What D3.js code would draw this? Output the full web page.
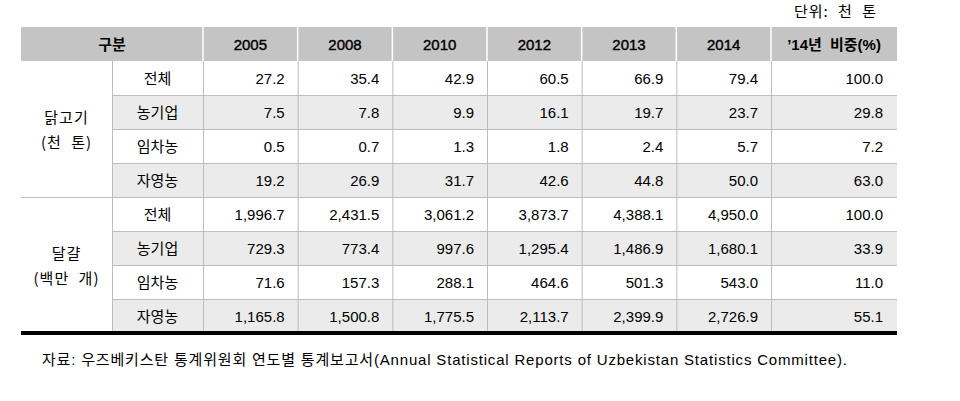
<!DOCTYPE html>
<html><head><meta charset="utf-8">
<script src="https://cdn.jsdelivr.net/npm/d3@7"></script>
<style>
body{margin:0;background:#fff;}
svg{display:block;}
</style></head>
<body><svg id="c" width="960" height="401"></svg>
<script>
const unitLabel = "단위: 천 톤";
const headerLabel = "구분";
const years = ["2005","2008","2010","2012","2013","2014"];
const shareLabel = "’14년 비중(%)";
const groups = [["닭고기","(천 톤)"],["달걀","(백만 개)"]];
const subcats = ["전체","농기업","임차농","자영농"];
const chickenValues = [
  [27.2,35.4,42.9,60.5,66.9,79.4],
  [7.5,7.8,9.9,16.1,19.7,23.7],
  [0.5,0.7,1.3,1.8,2.4,5.7],
  [19.2,26.9,31.7,42.6,44.8,50.0]
];
const chickenShare = [100.0,29.8,7.2,63.0];
const eggValues = [
  [1996.7,2431.5,3061.2,3873.7,4388.1,4950.0],
  [729.3,773.4,997.6,1295.4,1486.9,1680.1],
  [71.6,157.3,288.1,464.6,501.3,543.0],
  [1165.8,1500.8,1775.5,2113.7,2399.9,2726.9]
];
const eggShare = [100.0,33.9,11.0,55.1];
const sourceText = "자료: 우즈베키스탄 통계위원회 연도별 통계보고서(Annual Statistical Reports of Uzbekistan Statistics Committee).";

const svg = d3.select("#c");
const KR = "'Noto Sans CJK KR', sans-serif";
const NUM = "'Liberation Sans', Arial, sans-serif";
const MIX = "'Liberation Sans', 'Noto Sans CJK KR', sans-serif";
const fs = 15;

const left = 21, right = 897, c1 = 112, c2 = 203, cYearEnd = 771;
const headTop = 27, headBot = 61, bodyBot = 333;

const rows = [];
[chickenValues, eggValues].forEach((vals, g) => {
  const share = g === 0 ? chickenShare : eggShare;
  vals.forEach((r, i) => rows.push({g, i, sub: subcats[i], vals: r, share: share[i]}));
});

const y = d3.scaleBand().domain(d3.range(rows.length)).range([headBot, bodyBot]);
const x = d3.scaleBand().domain(years).range([c2, cYearEnd]);
const fmt = d3.format(",.1f");

// header fill
svg.append("rect").attr("x", left).attr("y", headTop).attr("width", right-left).attr("height", headBot-headTop).attr("fill", "#c4c4c4");
// header separators
[c2, ...years.slice(1).map(d => x(d)), cYearEnd].forEach(xx => {
  svg.append("line").attr("x1", xx).attr("x2", xx).attr("y1", headTop).attr("y2", headBot).attr("stroke", "#fff").attr("stroke-width", 1.5);
});

// alternating fills
svg.selectAll("rect.alt").data(rows.filter(r => r.i % 2 === 1)).join("rect")
  .attr("x", c1).attr("y", (d) => y(rows.indexOf(d))).attr("width", right-c1).attr("height", y.bandwidth())
  .attr("fill", "#ebebeb");

const grid = "#bdbdbd";
rows.forEach((r, k) => {
  if (k === 0) return;
  const x1 = (r.i === 0) ? left : c1;
  svg.append("line").attr("x1", x1).attr("x2", right).attr("y1", y(k)+0.5).attr("y2", y(k)+0.5).attr("stroke", grid);
});
[c1, c2, ...years.slice(1).map(d => x(d)), cYearEnd].forEach(xx => {
  svg.append("line").attr("x1", xx+0.5).attr("x2", xx+0.5).attr("y1", headBot).attr("y2", bodyBot).attr("stroke", grid);
});
svg.append("rect").attr("x", left).attr("y", 331).attr("width", right-left).attr("height", 4).attr("fill", "#000");

// header text
const hy = (headTop + headBot)/2 + 5.5;
svg.append("text").attr("x", (left+c2)/2).attr("y", hy).attr("text-anchor","middle")
  .attr("font-family", KR).attr("font-size", fs).attr("font-weight", 700).text(headerLabel);
svg.selectAll("text.yr").data(years).join("text").attr("class","yr")
  .attr("x", d => x(d) + x.bandwidth()/2).attr("y", hy).attr("text-anchor","middle")
  .attr("font-family", NUM).attr("font-size", fs).attr("stroke", "#000").attr("stroke-width", 0.4).text(d => d);
svg.append("text").attr("x", (cYearEnd+right)/2).attr("y", hy).attr("text-anchor","middle")
  .attr("font-family", MIX).attr("font-size", fs).attr("font-weight", 700).attr("word-spacing", 4).text(shareLabel);

// group labels
groups.forEach((lab, g) => {
  const top = y(g*4), bot = y(g*4+3) + y.bandwidth();
  const cy = (top+bot)/2;
  lab.forEach((t, j) => {
    svg.append("text").attr("x", (left+c1)/2).attr("y", cy - 12 + j*25 + 5.5).attr("text-anchor","middle")
      .attr("font-family", KR).attr("font-size", fs).attr("word-spacing", 5).attr("letter-spacing", 1).text(t);
  });
});

// body
const ty = k => y(k) + y.bandwidth()/2 + 5.5;
rows.forEach((r, k) => {
  svg.append("text").attr("x", (c1+c2)/2).attr("y", ty(k)).attr("text-anchor","middle")
    .attr("font-family", KR).attr("font-size", fs).text(r.sub);
  years.forEach((yr, j) => {
    svg.append("text").attr("x", x(yr) + x.bandwidth() - 13).attr("y", ty(k)).attr("text-anchor","end")
      .attr("font-family", NUM).attr("font-size", fs).text(fmt(r.vals[j]));
  });
  svg.append("text").attr("x", right - 14).attr("y", ty(k)).attr("text-anchor","end")
    .attr("font-family", NUM).attr("font-size", fs).text(fmt(r.share));
});

// unit & source
svg.append("text").attr("x", 877).attr("y", 17).attr("text-anchor","end")
  .attr("font-family", KR).attr("font-size", fs).attr("word-spacing", 5).attr("letter-spacing", 1).text(unitLabel);
svg.append("text").attr("x", 42).attr("y", 365)
  .attr("font-family", MIX).attr("font-size", fs)
  .attr("textLength", 805).attr("lengthAdjust", "spacing").text(sourceText);
</script></body></html>
